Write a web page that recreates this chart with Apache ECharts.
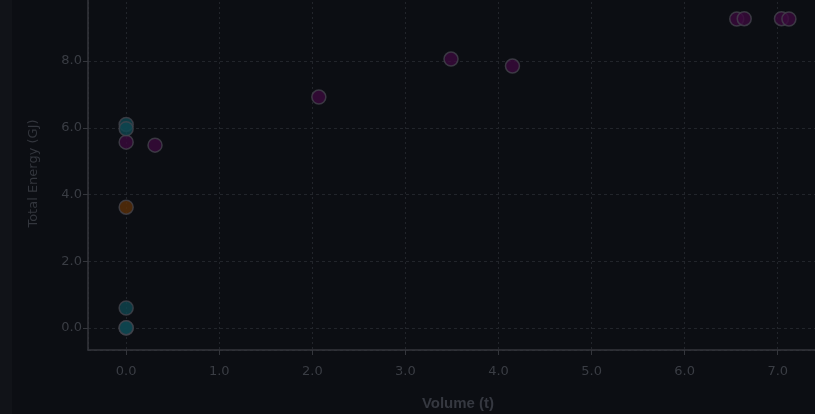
<!DOCTYPE html>
<html>
<head>
<meta charset="utf-8">
<script src="https://cdn.jsdelivr.net/npm/echarts@6/dist/echarts.min.js"></script>
<style>
html,body{margin:0;padding:0;background:#0c0e13;overflow:hidden;}
#strip{position:absolute;left:0;top:0;width:12px;height:414px;background:#111318;}
#chart{position:absolute;left:0;top:0;width:815px;height:414px;}
</style>
</head>
<body>
<div id="strip"></div>
<div id="chart"></div>
<script>
// Data: [volume (t), total energy (GJ)]
const purplePoints = [
  [0.0, 5.57], [0.31, 5.48], [2.07, 6.92], [3.49, 8.06], [4.15, 7.85],
  [6.56, 9.26], [6.64, 9.27], [7.04, 9.27], [7.12, 9.26]
];
const tealPoints = [
  [0.0, 6.1], [0.0, 5.97], [0.0, 0.6], [0.0, 0.0], [0.0, 0.01]
];
const orangePoints = [
  [0.0, 3.62]
];
const xAxisName = 'Volume (t)';
const yAxisName = 'Total Energy (GJ)';

const textColor = '#3a3d44';
const chart = echarts.init(document.getElementById('chart'), null, {renderer: 'canvas'});
function mk(name, data, color) {
  return {
    name: name, type: 'scatter', data: data, symbolSize: 14,
    itemStyle: {color: color, borderColor: '#43444c', borderWidth: 1.5},
    emphasis: {disabled: true}
  };
}
chart.setOption({
  backgroundColor: 'transparent',
  animation: false,
  grid: {left: 88, right: -13, top: -3, bottom: 64, containLabel: false, outerBoundsMode: 'none'},
  xAxis: {
    type: 'value', min: -0.41, max: 7.54, splitNumber: 8,
    name: xAxisName, nameLocation: 'middle', nameGap: 46,
    nameTextStyle: {color: '#353840', fontSize: 15, fontWeight: 'bold', fontFamily: 'Liberation Sans, sans-serif'},
    axisLine: {show: true, onZero: false, lineStyle: {color: '#34363c', width: 1.5}},
    axisTick: {show: true, length: 5, lineStyle: {color: '#34363c'}},
    axisLabel: {color: textColor, fontSize: 13, margin: 15, showMinLabel: false, showMaxLabel: false,
      fontFamily: 'DejaVu Sans, sans-serif', formatter: v => v.toFixed(1)},
    splitLine: {show: true, lineStyle: {color: '#22252b', type: [2, 3]}}
  },
  yAxis: {
    type: 'value', min: -0.66, max: 9.92, splitNumber: 5,
    name: yAxisName, nameLocation: 'middle', nameGap: 48,
    nameTextStyle: {color: '#33363d', fontSize: 13, fontFamily: 'DejaVu Sans, sans-serif'},
    axisLine: {show: true, onZero: false, lineStyle: {color: '#34363c', width: 1.5}},
    axisTick: {show: true, length: 5, lineStyle: {color: '#34363c'}},
    axisLabel: {color: textColor, fontSize: 13, margin: 6, showMinLabel: false, showMaxLabel: false,
      fontFamily: 'DejaVu Sans, sans-serif', formatter: v => v.toFixed(1)},
    splitLine: {show: true, lineStyle: {color: '#22252b', type: [3, 3]}}
  },
  series: [
    mk('Purple', purplePoints, '#3a0a3c'),
    mk('Teal', tealPoints, '#0f4650'),
    mk('Orange', orangePoints, '#5a3009')
  ]
});
</script>
</body>
</html>
